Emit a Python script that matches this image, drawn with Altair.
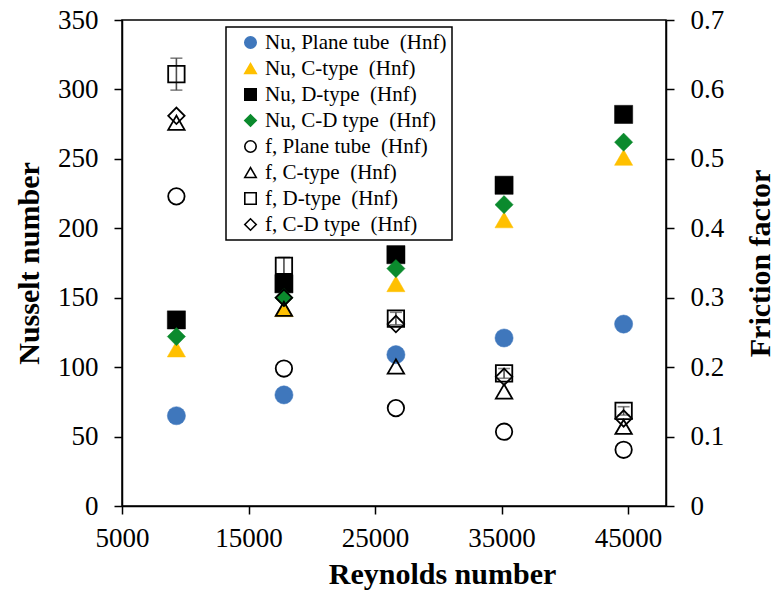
import altair as alt
import pandas as pd

reynolds = [9300, 17800, 26650, 35200, 44650]

nu_plane = [65, 80, 109, 121, 131]
nu_c = [113, 142, 160, 206, 251]
nu_d = [134, 160, 181, 231, 282]
nu_cd = [122, 150, 171, 217, 262]

f_plane = [0.446, 0.198, 0.141, 0.107, 0.081]
f_c = [0.552, 0.284, 0.201, 0.165, 0.114]
f_d = [0.622, 0.346, 0.270, 0.191, 0.137]
f_cd = [0.562, 0.300, 0.262, 0.186, 0.126]
f_d_err = [0.023, 0.012, 0.009, 0.007, 0.006]

NB = "\u00a0 "
series_names = [
    "Nu, Plane tube" + NB + "(Hnf)",
    "Nu, C-type" + NB + "(Hnf)",
    "Nu, D-type" + NB + "(Hnf)",
    "Nu, C-D type" + NB + "(Hnf)",
    "f, Plane tube" + NB + "(Hnf)",
    "f, C-type" + NB + "(Hnf)",
    "f, D-type" + NB + "(Hnf)",
    "f, C-D type" + NB + "(Hnf)",
]
shapes = ["circle", "triangle-up", "square", "diamond", "circle", "triangle-up", "square", "diamond"]
fills = ["#3f77bc", "#ffc000", "#000000", "#0b8a2d", "transparent", "transparent", "transparent", "transparent"]
strokes = ["#3f77bc", "#ffc000", "#000000", "#0b8a2d", "#000000", "#000000", "#000000", "#000000"]

x_ticks = [5000, 15000, 25000, 35000, 45000]
nu_ticks = [0, 50, 100, 150, 200, 250, 300, 350]
f_ticks = [0, 0.1, 0.2, 0.3, 0.4, 0.5, 0.6, 0.7]

nu_rows = []
for name, vals in zip(series_names[:4], [nu_plane, nu_c, nu_d, nu_cd]):
    for re_, v in zip(reynolds, vals):
        nu_rows.append({"Re": re_, "value": v, "series": name})
nu_df = pd.DataFrame(nu_rows)

f_rows = []
for name, vals in zip(series_names[4:], [f_plane, f_c, f_d, f_cd]):
    for re_, v in zip(reynolds, vals):
        f_rows.append({"Re": re_, "value": v, "series": name})
f_df = pd.DataFrame(f_rows)

err_df = pd.DataFrame({
    "Re": reynolds,
    "lo": [v - e for v, e in zip(f_d, f_d_err)],
    "hi": [v + e for v, e in zip(f_d, f_d_err)],
})

FONT = "Liberation Serif"
common_axis = dict(labelFont=FONT, titleFont=FONT, labelColor="black", titleColor="black",
                   domainColor="black", domainWidth=1.5, tickColor="black", tickWidth=1.5,
                   grid=False, labelFontSize=27, titleFontSize=30, titleFontWeight="bold",
                   tickSize=8, labelFlush=False)

x_enc = alt.X("Re:Q",
              scale=alt.Scale(domain=[5000, 48000], nice=False, zero=False),
              axis=alt.Axis(values=x_ticks, format="d", title="Reynolds number",
                            titleX=320, titleY=77, titleBaseline="alphabetic", titleAlign="center",
                            labelPadding=11, **common_axis))

sdom = series_names
legend = alt.Legend(
    title=None, orient="none", legendX=104, legendY=7,
    labelFont=FONT, labelFontSize=21, labelLimit=400, labelColor="black",
    symbolSize=130, symbolStrokeWidth=1.6, rowPadding=4, padding=5,
    symbolOffset=9, labelOffset=4,
    strokeColor="black", fillColor="white",
)
shape_enc = alt.Shape("series:N", scale=alt.Scale(domain=sdom, range=shapes), legend=legend, sort=sdom)
fill_enc = alt.Fill("series:N", scale=alt.Scale(domain=sdom, range=fills), legend=legend, sort=sdom)
stroke_enc = alt.Stroke("series:N", scale=alt.Scale(domain=sdom, range=strokes), legend=legend, sort=sdom)

nu_layer = alt.Chart(nu_df).mark_point(size=330, strokeWidth=0.5, opacity=1).encode(
    x=x_enc,
    y=alt.Y("value:Q", scale=alt.Scale(domain=[0, 350], nice=False),
            axis=alt.Axis(values=nu_ticks, title="Nusselt number", orient="left",
                          titleX=-93, titleY=243, titleAngle=270, titleBaseline="middle",
                          titleAlign="center", labelPadding=16, **common_axis)),
    shape=shape_enc, fill=fill_enc, stroke=stroke_enc,
)

f_scale = alt.Scale(domain=[0, 0.7], nice=False)
f_axis = alt.Axis(values=f_ticks, format=".1~f", title="Friction factor", orient="right",
                  titleX=94, titleY=243, titleAngle=270, titleBaseline="middle", titleAlign="center",
                  labelPadding=16, **common_axis)

err_rule = alt.Chart(err_df).mark_rule(color="#4d4d4d", strokeWidth=1.6).encode(
    x=alt.X("Re:Q"), y=alt.Y("lo:Q", scale=f_scale, axis=f_axis), y2="hi:Q")
err_lo = alt.Chart(err_df).mark_tick(color="#4d4d4d", orient="horizontal", size=12, thickness=1.6).encode(
    x=alt.X("Re:Q"), y=alt.Y("lo:Q", scale=f_scale))
err_hi = alt.Chart(err_df).mark_tick(color="#4d4d4d", orient="horizontal", size=12, thickness=1.6).encode(
    x=alt.X("Re:Q"), y=alt.Y("hi:Q", scale=f_scale))

f_points = alt.Chart(f_df).mark_point(size=270, strokeWidth=1.8, opacity=1).encode(
    x=alt.X("Re:Q"),
    y=alt.Y("value:Q", scale=f_scale, axis=f_axis),
    shape=shape_enc, fill=fill_enc, stroke=stroke_enc,
)

right = alt.layer(err_rule, err_lo, err_hi, f_points)

chart = alt.layer(nu_layer, right).resolve_scale(y="independent").properties(
    width=544, height=486,
    background="white",
    autosize=alt.AutoSizeParams(type="none"),
    padding={"left": 122, "top": 20, "right": 108, "bottom": 84},
).configure_view(stroke="black", strokeWidth=1.5).configure_legend(strokeWidth=1.5)

chart.save("out.html", embed_options={"renderer": "svg", "actions": False})
